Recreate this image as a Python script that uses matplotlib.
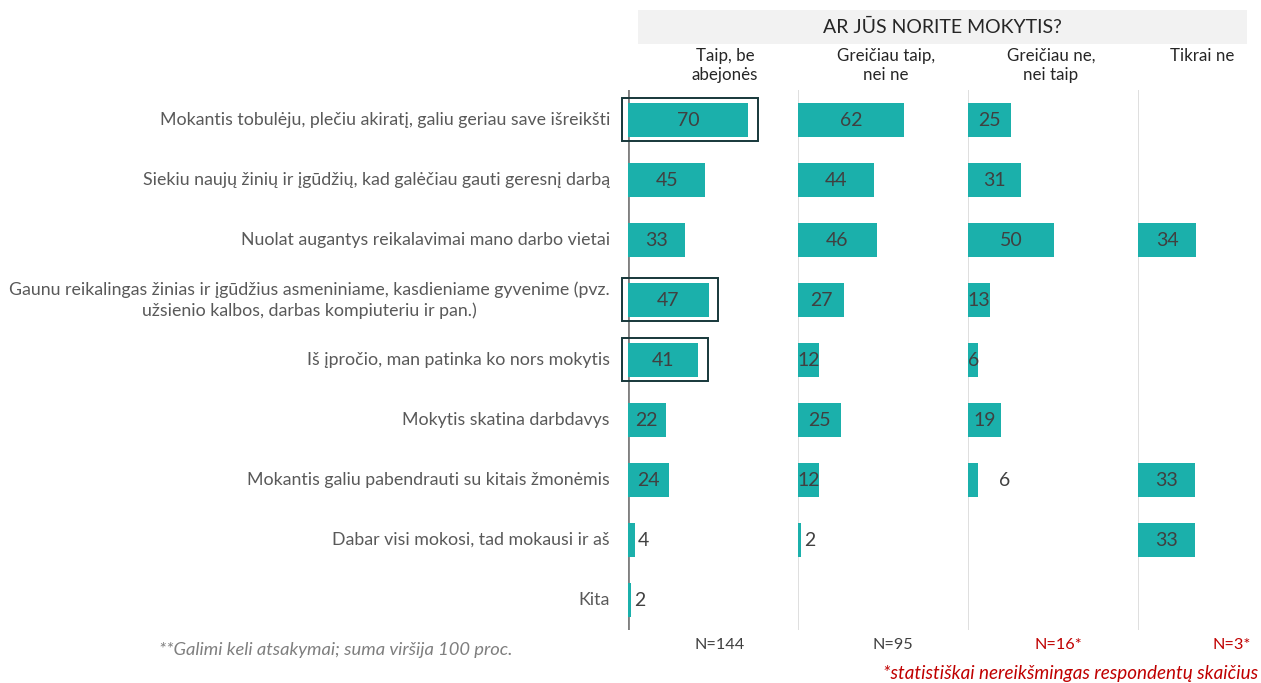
import matplotlib
matplotlib.use("Agg")
import matplotlib.pyplot as plt
from matplotlib.patches import Rectangle
import numpy as np

plt.rcParams["font.family"] = ["Lato", "DejaVu Sans"]

# --- data ---
categories = [
    "Mokantis tobulėju, plečiu akiratį, galiu geriau save išreikšti",
    "Siekiu naujų žinių ir įgūdžių, kad galėčiau gauti geresnį darbą",
    "Nuolat augantys reikalavimai mano darbo vietai",
    "Gaunu reikalingas žinias ir įgūdžius asmeniniame, kasdieniame gyvenime (pvz.\nužsienio kalbos, darbas kompiuteriu ir pan.)",
    "Iš įpročio, man patinka ko nors mokytis",
    "Mokytis skatina darbdavys",
    "Mokantis galiu pabendrauti su kitais žmonėmis",
    "Dabar visi mokosi, tad mokausi ir aš",
    "Kita",
]
columns = ["Taip, be\nabejonės", "Greičiau taip,\nnei ne", "Greičiau ne,\nnei taip", "Tikrai ne"]
taip_be_abejones = [70, 45, 33, 47, 41, 22, 24, 4, 2]
greiciau_taip = [62, 44, 46, 27, 12, 25, 12, 2, np.nan]
greiciau_ne = [25, 31, 50, 13, 6, 19, 6, np.nan, np.nan]
tikrai_ne = [np.nan, np.nan, 34, np.nan, np.nan, np.nan, 33, 33, np.nan]
series = [taip_be_abejones, greiciau_taip, greiciau_ne, tikrai_ne]
n_labels = ["N=144", "N=95", "N=16*", "N=3*"]
n_significant = [True, True, False, False]
highlighted = [0, 3, 4]  # rows boxed in the first column
outside_label = {(2, 6)}  # (column, row) labels drawn right of the bar

bar_color = "#1bb0ab"
text_dark = "#404040"
text_gray = "#595959"
red = "#c00000"

W, H = 1261, 683
fig = plt.figure(figsize=(W / 100, H / 100), dpi=100)

panel_left = [628, 798, 968, 1138]
panel_w = 170
top, bottom = 90, 630
y = np.arange(len(categories))

for k, vals in enumerate(series):
    ax = fig.add_axes([panel_left[k] / W, 1 - bottom / H, panel_w / W, (bottom - top) / H])
    ax.set_xlim(0, 99)
    ax.set_ylim(len(categories) - 0.5, -0.5)
    ax.axis("off")
    ax.axvline(0, color="#7f7f7f" if k == 0 else "#d9d9d9", lw=2 if k == 0 else 1.2, zorder=1)
    vals = np.array(vals, dtype=float)
    ax.barh(y, np.nan_to_num(vals), height=0.57, color=bar_color, zorder=2)
    for i, v in enumerate(vals):
        if np.isnan(v):
            continue
        if v < 5 or (k, i) in outside_label:
            ax.text(v + (12 if (k, i) in outside_label else 1.5), i, f"{v:.0f}", ha="left", va="center",
                    fontsize=14, color=text_dark, zorder=3)
        else:
            ax.text(v / 2, i, f"{v:.0f}", ha="center", va="center", fontsize=14, color=text_dark, zorder=3)
    if k == 0:
        for i in highlighted:
            ax.add_patch(Rectangle((-3.5, i - 0.37), vals[i] + 9, 0.72, fill=False,
                                   edgecolor="#16373a", lw=1.4, clip_on=False, zorder=4))
        for i, c in enumerate(categories):
            ax.text(-10.5, i, c, ha="right", va="center", fontsize=12.75, color=text_gray,
                    multialignment="center", linespacing=1.3)

# header
fig.patches.append(Rectangle((638 / W, 1 - 44 / H), 609 / W, 34 / H, transform=fig.transFigure,
                             facecolor="#f2f2f2", edgecolor="none"))
fig.text(942 / W, 1 - 27 / H, "AR JŪS NORITE MOKYTIS?", ha="center", va="center", fontsize=14,
         color="#262626")
col_x = [725, 886, 1051, 1202]
for cx, c in zip(col_x, columns):
    fig.text(cx / W, 1 - 48 / H, c, ha="center", va="top", fontsize=12.2, color="#262626", linespacing=1.2)

n_x = [720, 893, 1058, 1232]
for nx, n, ok in zip(n_x, n_labels, n_significant):
    fig.text(nx / W, 1 - 645 / H, n, ha="center", va="center", fontsize=11.7,
             color=text_dark if ok else red)

fig.text(512 / W, 1 - 650 / H, "**Galimi keli atsakymai; suma viršija 100 proc.", ha="right", va="center",
         fontsize=13.2, style="italic", color="#7f7f7f")
fig.text(1258 / W, 1 - 673 / H, "*statistiškai nereikšmingas respondentų skaičius", ha="right", va="center",
         fontsize=13.6, style="italic", color=red)

fig.savefig("out.png", dpi=100)
